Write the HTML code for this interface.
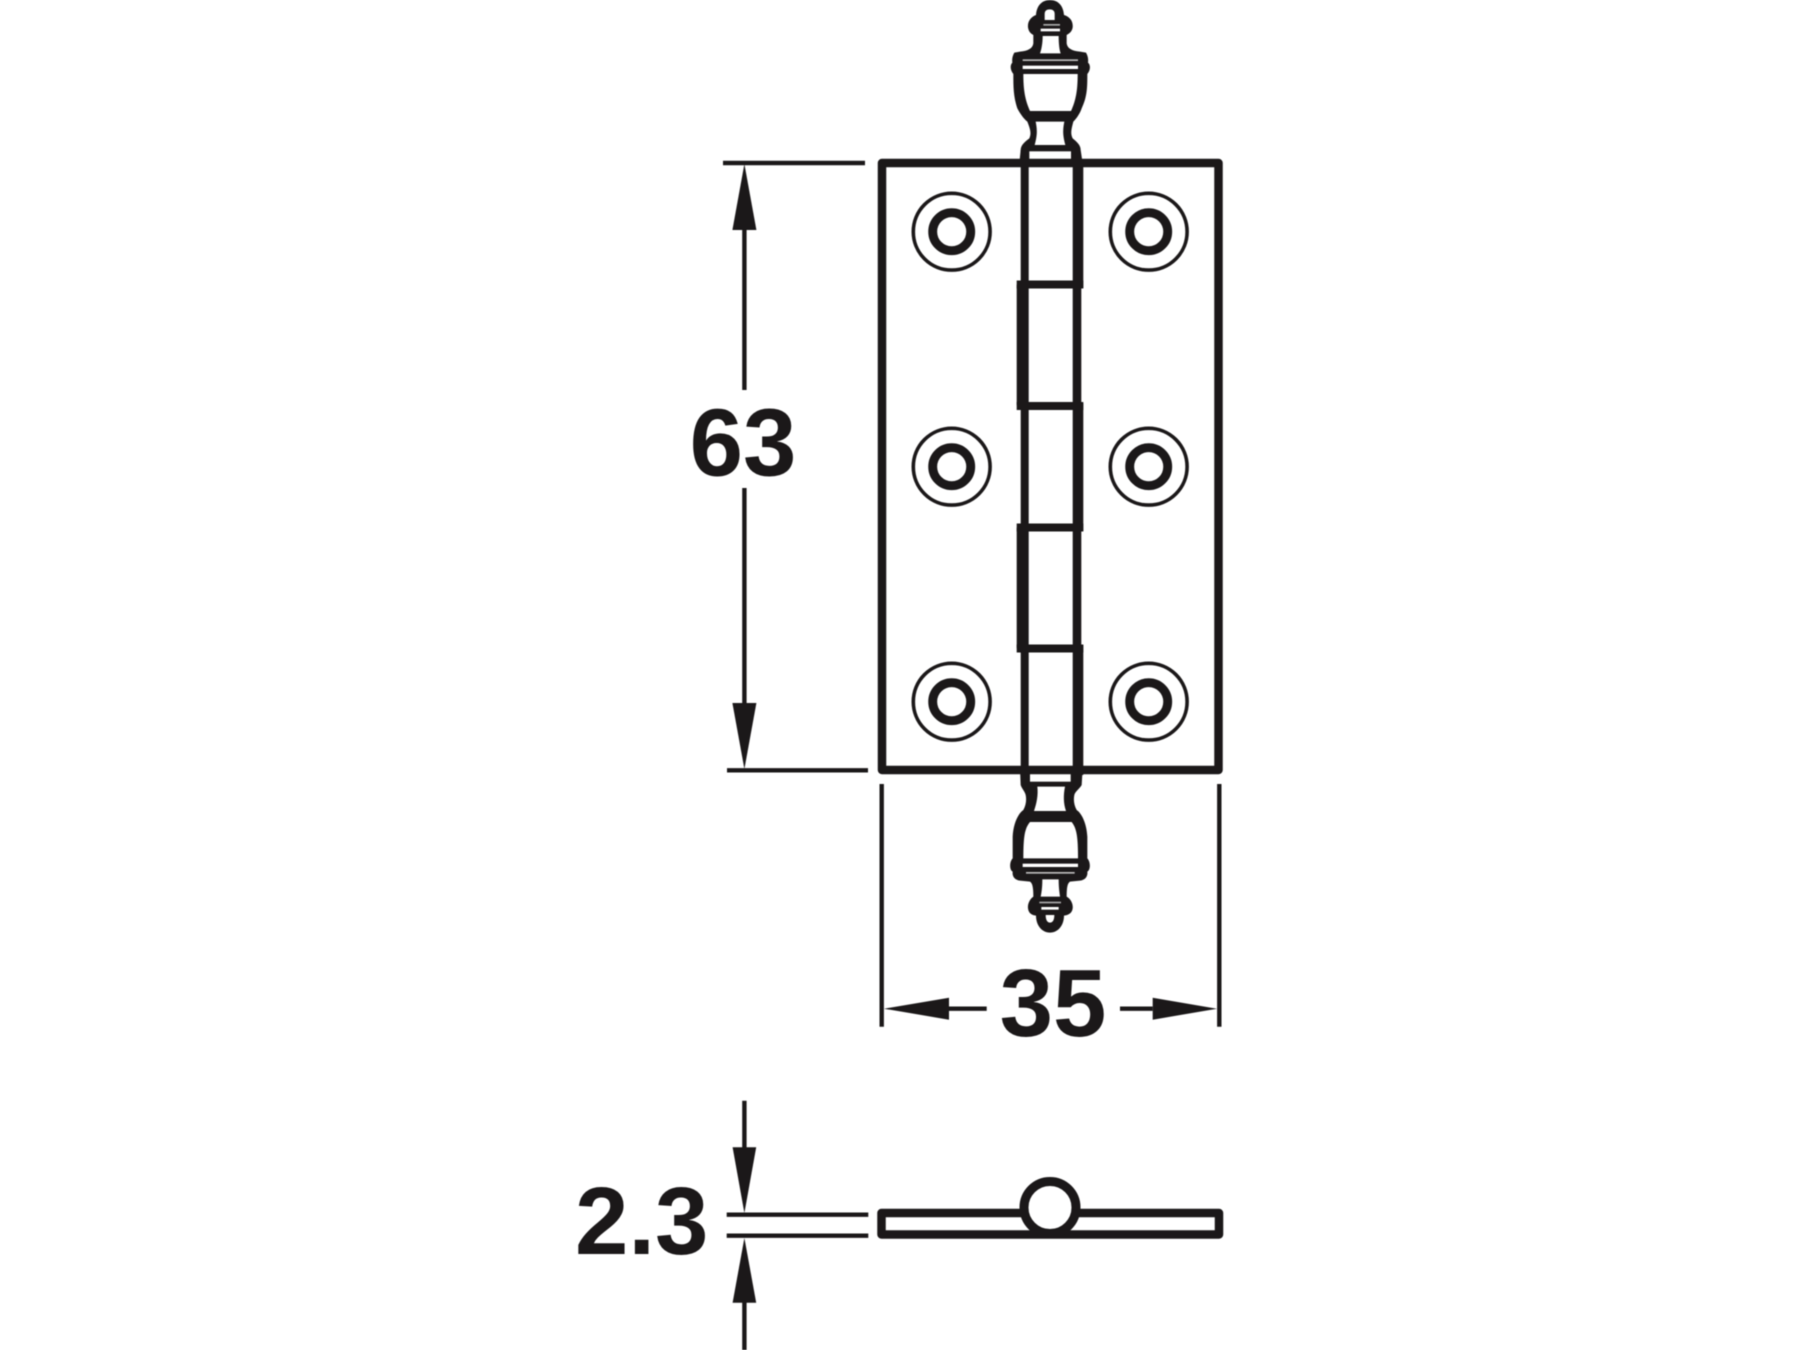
<!DOCTYPE html>
<html><head><meta charset="utf-8"><style>
html,body{margin:0;padding:0;background:#fff}
svg{display:block;filter:blur(.5px)}
text{font-family:"Liberation Sans",sans-serif;font-weight:700;font-size:96px;fill:#1b1819;text-anchor:middle}
</style></head><body>
<svg width="1800" height="1350" viewBox="0 0 1800 1350" xmlns="http://www.w3.org/2000/svg">
<rect width="1800" height="1350" fill="#fff"/>
<!-- top finial -->
<g transform="translate(980 0) scale(.33333)">
<path fill="#1b1819" d="M210 0C235 0 250 18 252 45C268 50 280 62 278 82C276 95 268 100 260 105L260 130C262 145 275 152 300 155L318 158C325 170 325 180 324 188C332 195 332 210 322 222C322 260 322 290 305 325C300 340 290 355 280 365C275 385 270 400 278 415C290 425 302 435 302 450L308 490L118 490L122 450C122 435 135 425 148 415C155 400 150 385 142 365C130 355 120 340 112 325C100 290 100 260 100 222C90 210 90 195 97 188C96 180 96 170 103 158L120 155C145 152 158 145 160 130L160 105C152 100 146 95 144 82C142 62 155 50 168 45C170 18 185 0 210 0Z"/>
<g fill="#fff">
<path d="M194 60V42C194 32 200 28 209 28C218 28 224 32 224 42V60Z"/>
<rect x="190" y="72" width="50" height="5" fill="#aaa"/>
<rect x="182" y="86" width="58" height="8"/>
<path d="M188 108H236C236 130 238 150 242 160H180C184 150 188 130 188 108Z"/>
<rect x="128" y="178" width="166" height="5" fill="#bbb"/>
<rect x="128" y="197" width="166" height="10"/>
<path d="M130 222H293C293 270 288 300 273 333H150C135 300 130 270 130 222Z"/>
<path d="M167 365H253C248 390 248 405 256 435H164C172 405 172 390 167 365Z"/>
<rect x="148" y="454" width="125" height="28"/>
</g>
</g>
<!-- bottom finial -->
<g transform="translate(980 750) scale(.33333)">
<path fill="#1b1819" d="M120 55H308L305 105C300 115 285 125 283 135C280 150 282 165 290 180C305 190 320 220 322 260V325C332 335 332 360 322 365C324 380 315 390 300 392L270 395C262 400 260 415 260 440C270 445 280 460 278 475C276 490 265 495 252 497C252 525 235 548 210 548C185 548 168 525 168 497C155 495 146 490 144 475C142 460 152 445 160 440C160 415 158 400 150 395L120 392C105 390 96 380 98 365C88 360 88 335 98 325V260C100 220 115 190 130 180C138 165 140 150 137 135C135 125 125 115 122 105Z"/>
<g fill="#fff">
<rect x="150" y="68" width="122" height="27"/>
<path d="M172 110H255C250 135 250 160 258 183H162C170 160 175 135 172 110Z"/>
<path d="M150 216H275C290 235 294 260 294 325H130C130 260 134 235 150 216Z"/>
<rect x="128" y="341" width="166" height="10"/>
<rect x="138" y="366" width="146" height="5" fill="#bbb"/>
<path d="M187 388H236C236 410 238 425 240 440H182C185 425 187 410 187 388Z"/>
<rect x="178" y="455" width="65" height="5" fill="#aaa"/>
<rect x="184" y="471" width="52" height="8"/>
<path d="M197 495H223C223 510 218 518 210 518C202 518 197 510 197 495Z"/>
</g>
</g>
<!-- plate -->
<rect x="882" y="163" width="336.5" height="607" fill="none" stroke="#1b1819" stroke-width="8.5" stroke-linejoin="round"/>
<!-- knuckles -->
<g stroke="#1b1819" fill="none">
<g stroke-width="8">
<path d="M1024.7 150V285M1024.7 406V527M1024.7 648V775"/>
<path d="M1016.7 284.5H1083.3M1016.7 406H1083.3M1016.7 527.5H1083.3M1016.7 648.5H1083.3"/>
</g>
<path stroke-width="10.6" d="M1078 160V288M1078 403V531M1078 645V775"/>
<path stroke-width="12" stroke-linecap="round" d="M1022.7 286V404M1022.7 529V647"/>
<path stroke-width="8.6" d="M1077 284V406M1077 527V649"/>
</g>
<!-- screw holes -->
<g fill="none" stroke="#1b1819">
<g stroke-width="3.6">
<circle cx="951.7" cy="231.7" r="38.4"/><circle cx="1148.7" cy="231.7" r="38.4"/>
<circle cx="951.7" cy="466.7" r="38.4"/><circle cx="1148.7" cy="466.7" r="38.4"/>
<circle cx="951.7" cy="701.7" r="38.4"/><circle cx="1148.7" cy="701.7" r="38.4"/>
</g>
<g stroke-width="8.9">
<circle cx="951.7" cy="231.7" r="19"/><circle cx="1148.7" cy="231.7" r="19"/>
<circle cx="951.7" cy="466.7" r="19"/><circle cx="1148.7" cy="466.7" r="19"/>
<circle cx="951.7" cy="701.7" r="19"/><circle cx="1148.7" cy="701.7" r="19"/>
</g>
</g>
<!-- dimension lines -->
<g stroke="#1b1819" stroke-width="4.4" fill="none">
<path d="M723 163H865M727 770.3H868"/>
<path d="M744.4 230V390M744.4 488V703"/>
<path d="M881.7 784V1026.7M1219.3 784V1026.7"/>
<path d="M949 1008.7H986.7M1120 1008.7H1152.7"/>
<path d="M726.7 1214.7H868.3M726.7 1235.7H868.3"/>
<path d="M744.4 1100.7V1148M744.4 1302V1350"/>
</g>
<!-- arrowheads -->
<g fill="#1b1819">
<path d="M744.4 164L756.4 230H732.4Z"/>
<path d="M744.4 769L756.4 703H732.4Z"/>
<path d="M884 1008.7L949 997.7V1019.7Z"/>
<path d="M1217 1008.7L1152.7 997.7V1019.7Z"/>
<path d="M744.4 1213L756.2 1147.3H732.6Z"/>
<path d="M744.4 1238L756.2 1302.7H732.6Z"/>
</g>
<!-- side view -->
<rect x="881.5" y="1213" width="337.5" height="21.5" fill="#fff" stroke="#1b1819" stroke-width="8.5" stroke-linejoin="round"/>
<circle cx="1050" cy="1207.5" r="26" fill="#fff" stroke="#1b1819" stroke-width="9"/>
<!-- labels -->
<text x="743" y="475.5">63</text>
<text x="1053" y="1036">35</text>
<text x="641.7" y="1254">2.3</text>
</svg>
</body></html>
